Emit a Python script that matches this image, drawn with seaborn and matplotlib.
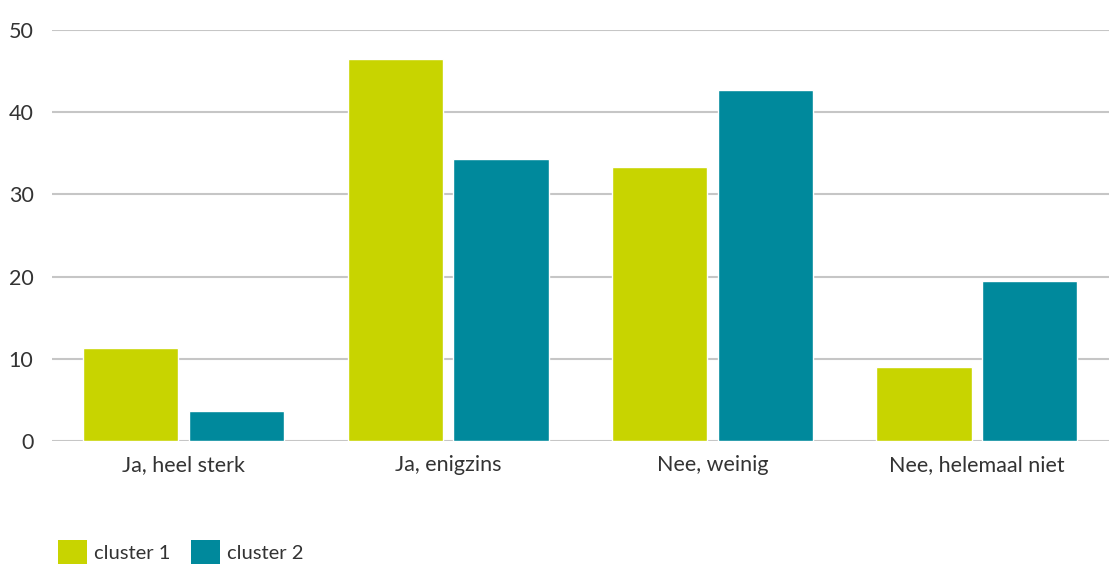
import matplotlib
matplotlib.use("Agg")
import matplotlib.pyplot as plt
import seaborn as sns
import pandas as pd
from matplotlib.patches import Patch

categories = ["Ja, heel sterk", "Ja, enigzins", "Nee, weinig", "Nee, helemaal niet"]
series_names = ["cluster 1", "cluster 2"]
cluster1 = [11.3, 46.5, 33.3, 9.0]
cluster2 = [3.6, 34.3, 42.7, 19.5]
y_ticks = [0, 10, 20, 30, 40, 50]

colors = ["#c8d400", "#00899c"]

df = pd.DataFrame({
    "categorie": categories * 2,
    "waarde": cluster1 + cluster2,
    "groep": [series_names[0]] * len(categories) + [series_names[1]] * len(categories),
})

sns.set_theme(style="white")
plt.rcParams["font.family"] = ["Lato", "DejaVu Sans"]

fig = plt.figure(figsize=(11.09, 5.65), dpi=100)
ax = fig.add_axes([0.0465, 0.2195, 0.9535, 0.7275])

sns.barplot(data=df, x="categorie", y="waarde", hue="groep", order=categories,
            hue_order=series_names, palette=colors, width=0.8, gap=0.1,
            saturation=1, ax=ax, legend=False, zorder=3)

ax.set_ylim(0, 50)
ax.set_xlim(-0.5, len(categories) - 0.5)
ax.set_yticks(y_ticks)
ax.set_yticklabels([str(t) for t in y_ticks])
ax.yaxis.grid(True, color="#c6c6c6", linewidth=1.5, zorder=0)
ax.set_axisbelow(True)
for s in ax.spines.values():
    s.set_visible(False)
ax.set_xlabel("")
ax.set_ylabel("")
ax.tick_params(axis="y", length=0, pad=13, labelsize=15.5, labelcolor="#333333")
ax.tick_params(axis="x", length=0, pad=10, labelsize=15.5, labelcolor="#333333")

handles = [Patch(facecolor=c, edgecolor="none") for c in colors]
fig.legend(handles, series_names, loc="lower left", bbox_to_anchor=(0.036, -0.03),
           ncol=2, frameon=False, fontsize=14.5, handlelength=1.45, handleheight=1.45,
           handletextpad=0.35, columnspacing=1.0, labelcolor="#333333")

fig.savefig("out.png", dpi=100)
